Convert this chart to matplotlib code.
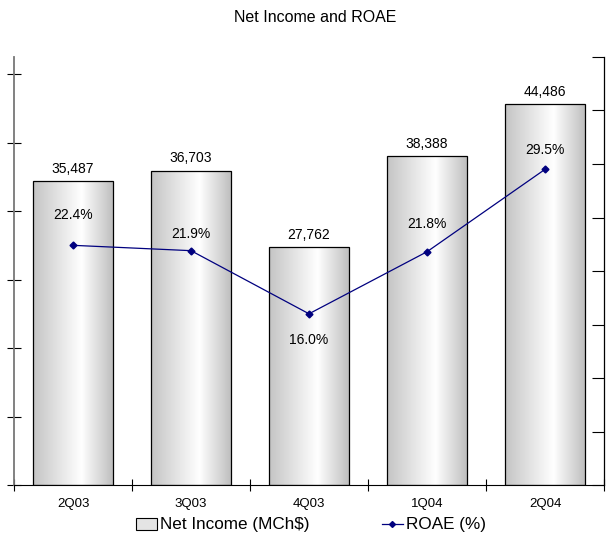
import numpy as np
import matplotlib.pyplot as plt
from matplotlib.patches import Rectangle
from matplotlib.colors import LinearSegmentedColormap
from matplotlib.lines import Line2D

quarters = ['2Q03', '3Q03', '4Q03', '1Q04', '2Q04']
net_income = [35487, 36703, 27762, 38388, 44486]
roae = [22.4, 21.9, 16.0, 21.8, 29.5]
income_labels = ['35,487', '36,703', '27,762', '38,388', '44,486']
roae_labels = ['22.4%', '21.9%', '16.0%', '21.8%', '29.5%']

# where to put the % labels (points, relative to marker)
roae_offsets = [(0, 22), (0, 12), (0, -19), (0, 20), (0, 14)]

plt.rcParams['font.family'] = ['Liberation Sans', 'DejaVu Sans']

fig = plt.figure(figsize=(6.10, 5.36), dpi=100)
ax = fig.add_axes([14 / 610, 51 / 536, 590 / 610, 428 / 536])
ax2 = ax.twinx()

grad_cmap = LinearSegmentedColormap.from_list(
    'bar', [(0, '#c4c4c4'), (0.3, '#e2e2e2'), (0.6, '#ffffff'), (1, '#bdbdbd')])
grad = np.linspace(0, 1, 256).reshape(1, -1)

x = np.arange(len(quarters))
width = 0.68
bars = ax.bar(x, net_income, width, color='none', edgecolor='black', linewidth=0.9, zorder=3)
for b in bars:
    im = ax.imshow(grad, cmap=grad_cmap, aspect='auto', zorder=2,
                   extent=[b.get_x(), b.get_x() + b.get_width(), 0, b.get_height()])
    im.set_clip_path(Rectangle((b.get_x(), 0), b.get_width(), b.get_height(),
                               transform=ax.transData))
for xi, v, lab in zip(x, net_income, income_labels):
    ax.annotate(lab, (xi, v), xytext=(0, 4), textcoords='offset points',
                ha='center', va='bottom', fontsize=10)

ax.set_xlim(-0.5, 4.5)
ax.set_ylim(0, 50000)
ax.set_yticks(np.arange(0, 50000, 8000))
ax.set_yticklabels([])
ax.set_xticks(np.arange(-0.5, 5, 1))
ax.set_xticklabels([])
ax.set_xticks(x, minor=True)
ax.set_xticklabels(quarters, minor=True, fontsize=9.5)
ax.tick_params(axis='x', which='minor', length=0, pad=9)
ax.tick_params(axis='x', which='major', direction='inout', length=8, width=0.8)
ax.tick_params(axis='y', direction='inout', length=10, width=0.8)
ax.spines['top'].set_visible(False)
ax.spines['right'].set_visible(False)
ax.spines['left'].set_color('#777777')
ax.spines['left'].set_linewidth(1.3)

ax2.plot(x, roae, color='#00007f', marker='D', markersize=3.5, linewidth=0.9, zorder=5)
for xi, v, lab, off in zip(x, roae, roae_labels, roae_offsets):
    ax2.annotate(lab, (xi, v), xytext=off, textcoords='offset points',
                 ha='center', va='center', fontsize=10)
ax2.set_ylim(0, 40)
ax2.set_yticks(np.arange(0, 41, 5))
ax2.set_yticklabels([])
ax2.tick_params(axis='y', direction='in', length=9, width=0.8)
for s in ['top', 'left', 'bottom']:
    ax2.spines[s].set_visible(False)
ax2.spines['right'].set_linewidth(0.9)

fig.text(315 / 610, 1 - 18 / 536, 'Net Income and ROAE', ha='center', va='center', fontsize=11.5)

handles = [Rectangle((0, 0), 1, 1, facecolor='#e4e4e4', edgecolor='black', linewidth=0.8),
           Line2D([], [], color='#00007f', marker='D', markersize=3, linewidth=0.9)]
fig.legend(handles, ['Net Income (MCh$)', 'ROAE (%)'], loc='center',
           bbox_to_anchor=(311 / 610, 1 - 525 / 536), ncol=2, frameon=False,
           fontsize=12.3, columnspacing=4.2, handlelength=1.25, handletextpad=0.2)

fig.savefig('out.png', dpi=100)
